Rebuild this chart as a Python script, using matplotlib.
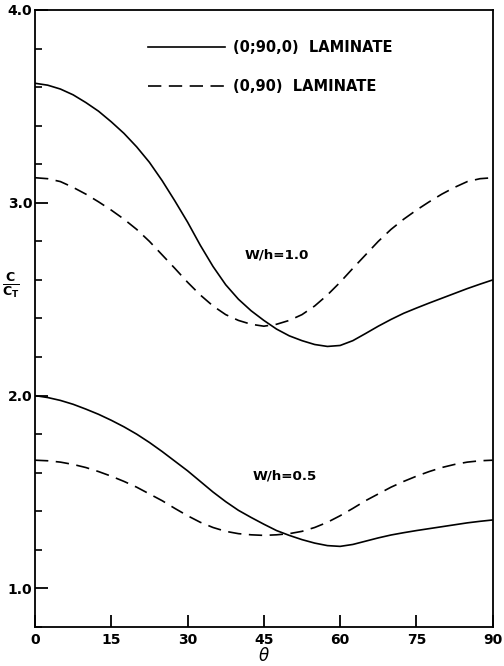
import matplotlib
matplotlib.use("Agg")
import matplotlib.pyplot as plt
from matplotlib.ticker import MultipleLocator

# ply angle theta (deg)
theta = [0, 2.5, 5, 7.5, 10, 12.5, 15, 17.5, 20, 22.5, 25, 27.5, 30, 32.5, 35, 37.5,
         40, 42.5, 45, 47.5, 50, 52.5, 55, 57.5, 60, 62.5, 65, 67.5, 70, 72.5, 75,
         77.5, 80, 82.5, 85, 87.5, 90]

# W/h = 1.0
c_090_w10 = [3.62, 3.61, 3.59, 3.56, 3.52, 3.475, 3.42, 3.36, 3.29, 3.21, 3.115, 3.01,
             2.90, 2.78, 2.67, 2.575, 2.50, 2.44, 2.39, 2.345, 2.31, 2.285, 2.265,
             2.255, 2.26, 2.285, 2.322, 2.36, 2.395, 2.427, 2.454, 2.48, 2.505, 2.53,
             2.555, 2.578, 2.60]
c_09_w10 = [3.13, 3.125, 3.11, 3.08, 3.045, 3.005, 2.962, 2.915, 2.862, 2.80, 2.73,
            2.66, 2.588, 2.522, 2.465, 2.42, 2.39, 2.37, 2.36, 2.37, 2.39, 2.42, 2.465,
            2.522, 2.588, 2.66, 2.73, 2.80, 2.862, 2.915, 2.962, 3.005, 3.045, 3.08,
            3.11, 3.125, 3.13]

# W/h = 0.5
c_090_w05 = [2.00, 1.99, 1.975, 1.955, 1.93, 1.903, 1.872, 1.838, 1.80, 1.757, 1.71,
             1.66, 1.61, 1.555, 1.50, 1.45, 1.405, 1.368, 1.333, 1.30, 1.275, 1.253,
             1.235, 1.222, 1.218, 1.228, 1.245, 1.262, 1.277, 1.289, 1.30, 1.31, 1.32,
             1.33, 1.34, 1.348, 1.355]
c_09_w05 = [1.665, 1.662, 1.655, 1.643, 1.627, 1.606, 1.582, 1.555, 1.525, 1.49, 1.455,
            1.415, 1.377, 1.343, 1.316, 1.296, 1.284, 1.278, 1.275, 1.278, 1.284,
            1.296, 1.316, 1.343, 1.377, 1.415, 1.455, 1.49, 1.525, 1.555, 1.582, 1.606,
            1.627, 1.643, 1.655, 1.662, 1.665]

labels = ["(0;90,0)  LAMINATE", "(0,90)  LAMINATE"]

plt.rcParams["font.family"] = "DejaVu Sans"
fig = plt.figure(figsize=(5.04, 6.66), dpi=100)
ax = fig.add_axes([0.0694, 0.0586, 0.9082, 0.9264])

lw = 1.2
dash = (0, (8, 4.5))
l1, = ax.plot(theta, c_090_w10, color="black", lw=lw)
l2, = ax.plot(theta, c_09_w10, color="black", lw=lw, linestyle=dash)
ax.plot(theta, c_090_w05, color="black", lw=lw)
ax.plot(theta, c_09_w05, color="black", lw=lw, linestyle=dash)

ax.set_xlim(0, 90)
ax.set_ylim(0.8, 4.0)
ax.set_xticks([0, 15, 30, 45, 60, 75, 90])
ax.set_yticks([1.0, 2.0, 3.0, 4.0])
ax.set_yticklabels(["1.0", "2.0", "3.0", "4.0"])
ax.yaxis.set_minor_locator(MultipleLocator(0.2))
ax.tick_params(axis="both", which="major", direction="in", width=1.3, length=9,
               labelsize=10, pad=4)
ax.tick_params(axis="y", which="minor", direction="in", width=1.2, length=5)
for lab in ax.get_xticklabels() + ax.get_yticklabels():
    lab.set_fontweight("bold")
ax.tick_params(axis="y", pad=2)
for sp in ax.spines.values():
    sp.set_linewidth(1.3)

ax.set_xlabel(r"$\theta$", fontsize=12, labelpad=0)
ax.text(-0.052, 0.555, r"$\frac{\mathbf{C}}{\mathbf{C_T}}$", transform=ax.transAxes,
        fontsize=13, ha="center", va="center")

ax.text(0.457, 0.603, "W/h=1.0", transform=ax.transAxes, fontsize=9.7,
        fontweight="bold", ha="left", va="center")
ax.text(0.475, 0.245, "W/h=0.5", transform=ax.transAxes, fontsize=9.7,
        fontweight="bold", ha="left", va="center")

leg = ax.legend([l1, l2], labels, loc="upper left", bbox_to_anchor=(0.218, 0.972),
                frameon=False, handlelength=5.3, handletextpad=0.55,
                labelspacing=1.6, prop={"size": 10.5, "weight": "bold"})

fig.savefig("out.png", dpi=100)
